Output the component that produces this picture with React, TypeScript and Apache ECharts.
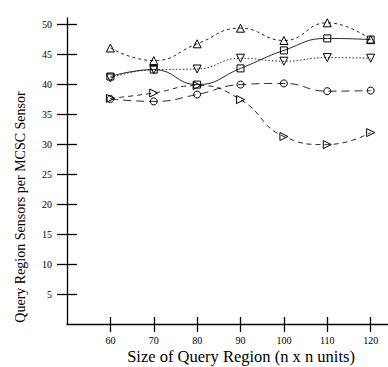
import React, { useEffect, useRef } from "react";
import * as echarts from "echarts";

const xValues = [60, 70, 80, 90, 100, 110, 120];
const yTicks = [5, 10, 15, 20, 25, 30, 35, 40, 45, 50];

const triUp = [46.0, 43.9, 46.7, 49.3, 47.25, 50.2, 47.4];
const squares = [41.25, 42.4, 39.9, 42.6, 45.6, 47.6, 47.4];
const triDown = [41.0, 42.4, 42.5, 44.3, 43.8, 44.4, 44.3];
const circles = [37.5, 37.1, 38.25, 39.9, 40.1, 38.8, 38.9];
const triRight = [37.6, 38.5, 39.75, 37.4, 31.25, 29.9, 31.9];

const FONT = "Liberation Serif";

export default function App() {
  const ref = useRef<HTMLDivElement>(null);
  useEffect(() => {
    if (!ref.current) return;
    const chart = echarts.init(ref.current, undefined, { renderer: "svg" });
    const pair = (arr: number[]) => arr.map((v, i) => [xValues[i], v]);
    const mk = (
      name: string,
      data: number[],
      symbol: string,
      rot: number,
      size: number,
      type: any,
      width = 0.9
    ) => ({
      name,
      type: "line",
      data: pair(data),
      smooth: 0.5,
      symbol,
      symbolRotate: rot,
      symbolSize: size,
      showSymbol: true,
      lineStyle: { color: "#111", width, type },
      itemStyle: { color: "rgba(0,0,0,0)", borderColor: "#000", borderWidth: 1 },
      z: 3,
    });
    const baseX = {
      type: "value",
      min: 50,
      max: 124,
      gridIndex: 0,
      position: "bottom",
      splitLine: { show: false },
    };
    const baseY = {
      type: "value",
      min: 0,
      max: 51,
      gridIndex: 0,
      position: "left",
      splitLine: { show: false },
    };
    chart.setOption({
      animation: false,
      backgroundColor: "#fff",
      grid: { left: 67, right: 0, top: 18, bottom: 43 },
      xAxis: [
        {
          ...baseX,
          axisLine: { show: true, lineStyle: { color: "#000", width: 1.3 } },
          axisTick: {
            show: true,
            inside: false,
            length: 8,
            customValues: xValues,
            lineStyle: { color: "#000", width: 1.3 },
          },
          axisLabel: {
            show: true,
            customValues: xValues,
            margin: 11,
            fontFamily: FONT,
            fontSize: 10,
            color: "#000",
          },
        },
        {
          ...baseX,
          axisLine: { show: false },
          axisTick: {
            show: true,
            inside: true,
            length: 7,
            customValues: xValues,
            lineStyle: { color: "#000", width: 1.3 },
          },
          axisLabel: { show: false },
        },
      ],
      yAxis: [
        {
          ...baseY,
          axisLine: { show: true, lineStyle: { color: "#000", width: 1.3 } },
          axisTick: {
            show: true,
            inside: false,
            length: 10,
            customValues: yTicks,
            lineStyle: { color: "#000", width: 1.3 },
          },
          axisLabel: {
            show: true,
            customValues: yTicks,
            margin: 15,
            fontFamily: FONT,
            fontSize: 10,
            color: "#000",
          },
        },
        {
          ...baseY,
          axisLine: { show: false },
          axisTick: {
            show: true,
            inside: true,
            length: 10,
            customValues: yTicks,
            lineStyle: { color: "#000", width: 1.3 },
          },
          axisLabel: { show: false },
        },
      ],
      graphic: [
        {
          type: "text",
          x: 20,
          y: 207,
          rotation: Math.PI / 2,
          style: {
            text: "Query Region Sensors per MCSC Sensor",
            font: `14px "${FONT}"`,
            fill: "#000",
            textAlign: "center",
            textVerticalAlign: "middle",
          },
        },
        {
          type: "text",
          x: 241,
          y: 356,
          style: {
            text: "Size of Query Region (n x n units)",
            font: `16.5px "${FONT}"`,
            fill: "#000",
            textAlign: "center",
            textVerticalAlign: "middle",
          },
        },
      ],
      series: [
        mk("triUp", triUp, "triangle", 0, 8, [3, 3]),
        mk("squares", squares, "rect", 0, 7, "solid"),
        mk("triDown", triDown, "triangle", 180, 8, [1.5, 2]),
        mk("circles", circles, "circle", 0, 7, [8, 5]),
        mk("triRight", triRight, "triangle", -90, 8, [5, 4]),
      ],
    });
    return () => chart.dispose();
  }, []);
  return (
    <div
      ref={ref}
      style={{ position: "absolute", left: 0, top: 0, width: 388, height: 367 }}
    />
  );
}
